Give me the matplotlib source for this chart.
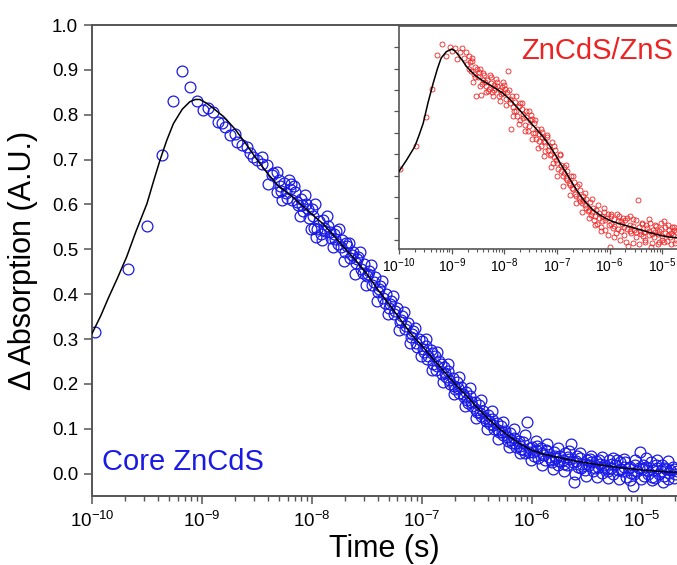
import matplotlib
matplotlib.use("Agg")
import matplotlib.pyplot as plt
import matplotlib.ticker as mticker
import numpy as np

plt.rcParams['font.family'] = ['Liberation Sans', 'DejaVu Sans']
plt.rcParams['mathtext.default'] = 'regular'
plt.rcParams['axes.unicode_minus'] = False

# ---------------- main panel: Core ZnCdS (log10 time, signal) ----------------
main_logt = [
    -9.976, -9.675, -9.497, -9.367, -9.267, -9.179, -9.109, -9.048, -8.994, -8.943,
    -8.897, -8.852, -8.821, -8.79, -8.745, -8.70, -8.685, -8.64, -8.594, -8.564,
    -8.533, -8.50, -8.458, -8.412, -8.367, -8.321, -8.321,
    -8.30, -8.28, -8.25, -8.23, -8.20, -8.18, -8.15, -8.13, -8.10, -8.08,
    -8.05, -8.03, -8.00, -7.98, -7.96, -7.94, -7.92, -7.90, -7.88, -7.85,
    -7.83, -7.80, -7.78, -7.76, -7.73, -7.70, -7.68, -7.65, -7.63, -7.60,
    -7.58, -7.55, -7.53, -7.50, -7.48, -7.45, -7.43, -7.40, -7.38, -7.35,
    -7.33, -7.30, -7.28, -7.25, -7.23, -7.20, -7.18, -7.15, -7.13, -7.10,
    -7.08, -7.05, -7.03,
    -8.29, -8.24, -8.19, -8.14, -8.09, -8.04, -7.99, -7.95, -7.89, -7.84,
    -7.79, -7.74, -7.69, -7.64, -7.59, -7.54, -7.49, -7.44, -7.39, -7.34,
    -7.29, -7.24, -7.19, -7.14, -7.09, -7.04,
    -7.00, -6.98, -6.96, -6.94, -6.92, -6.90, -6.88, -6.86, -6.84, -6.82,
    -6.80, -6.78, -6.76, -6.74, -6.72, -6.70, -6.68, -6.66, -6.64, -6.62,
    -6.60, -6.58, -6.56, -6.54, -6.52, -6.50, -6.48, -6.46, -6.44, -6.42,
    -6.40, -6.38, -6.36, -6.34, -6.32, -6.30, -6.28, -6.26, -6.24, -6.22,
    -6.20, -6.18, -6.16, -6.14, -6.12, -6.10, -6.08, -6.06, -6.04, -6.02,
    -6.99, -6.95, -6.91, -6.87, -6.83, -6.79, -6.75, -6.71, -6.67, -6.63,
    -6.59, -6.55, -6.51, -6.47, -6.43, -6.39, -6.35, -6.31, -6.27, -6.23,
    -6.19, -6.15, -6.11, -6.07, -6.03,
    -6.00, -5.98, -5.96, -5.94, -5.92, -5.90, -5.88, -5.86, -5.84, -5.82,
    -5.80, -5.78, -5.76, -5.74, -5.72, -5.70, -5.68, -5.66, -5.64, -5.62,
    -5.60, -5.58, -5.56, -5.54, -5.52, -5.50, -5.48, -5.46, -5.44, -5.42,
    -5.40, -5.38, -5.36, -5.34, -5.32, -5.30, -5.28, -5.26, -5.24, -5.22,
    -5.20, -5.18, -5.16, -5.14, -5.12, -5.10, -5.08, -5.06, -5.04, -5.02,
    -5.00, -4.98, -4.96, -4.94, -4.92, -4.90, -4.88, -4.86, -4.84, -4.82,
    -4.80, -4.78, -4.76, -4.74, -4.72, -4.70, -4.68,
    -5.99, -5.95, -5.91, -5.87, -5.83, -5.79, -5.75, -5.71, -5.67, -5.63,
    -5.59, -5.55, -5.51, -5.47, -5.43, -5.39, -5.35, -5.31, -5.27, -5.23,
    -5.19, -5.15, -5.11, -5.07, -5.03, -4.99, -4.95, -4.91, -4.87, -4.83,
    -4.79, -4.75, -4.71,
    -8.45, -8.40, -8.35, -8.27, -8.21, -8.16, -8.11, -8.06, -8.01, -7.97,
    -7.91, -7.86, -7.81, -7.75, -7.71, -7.66, -7.61, -7.56, -7.51, -7.46,
    -7.41, -7.36, -7.31, -7.26, -7.21, -7.16, -7.11, -7.06, -7.01, -6.96,
    -6.91, -6.86, -6.81, -6.76, -6.71, -6.66, -6.61, -6.56, -6.51, -6.46,
    -6.41, -6.36, -6.31, -6.26, -6.21, -6.16, -6.11, -6.06, -6.01, -5.96,
    -5.91, -5.86, -5.81, -5.76, -5.71, -5.66, -5.61, -5.56, -5.51, -5.46,
    -5.41, -5.36, -5.31, -5.26, -5.21, -5.16, -5.11, -5.06, -5.01, -4.96,
    -4.91, -4.86, -4.81, -4.76, -4.71,
]
main_val = [
    0.315, 0.455, 0.553, 0.711, 0.831, 0.898, 0.861, 0.831, 0.810, 0.816,
    0.806, 0.784, 0.782, 0.772, 0.754, 0.757, 0.740, 0.732, 0.728, 0.714,
    0.706, 0.700, 0.691, 0.688, 0.665, 0.628, 0.672,
    0.655, 0.630, 0.648, 0.615, 0.635, 0.610, 0.628, 0.598, 0.612, 0.585,
    0.602, 0.570, 0.590, 0.548, 0.527, 0.562, 0.535, 0.565, 0.540, 0.552,
    0.525, 0.535, 0.540, 0.512, 0.520, 0.495, 0.508, 0.480, 0.495, 0.470,
    0.482, 0.455, 0.468, 0.440, 0.452, 0.420, 0.438, 0.405, 0.418, 0.392,
    0.400, 0.370, 0.385, 0.355, 0.368, 0.338, 0.352, 0.322, 0.335, 0.305,
    0.318, 0.292, 0.300,
    0.642, 0.625, 0.645, 0.605, 0.598, 0.590, 0.575, 0.545, 0.548, 0.538,
    0.522, 0.505, 0.515, 0.488, 0.478, 0.448, 0.445, 0.428, 0.412, 0.380,
    0.378, 0.362, 0.342, 0.328, 0.312, 0.282,
    0.295, 0.270, 0.285, 0.262, 0.275, 0.245, 0.262, 0.240, 0.250, 0.222,
    0.238, 0.215, 0.228, 0.200, 0.212, 0.188, 0.205, 0.180, 0.192, 0.170,
    0.182, 0.158, 0.172, 0.150, 0.160, 0.138, 0.152, 0.128, 0.140, 0.118,
    0.130, 0.110, 0.122, 0.100, 0.112, 0.092, 0.105, 0.085, 0.095, 0.072,
    0.090, 0.068, 0.080, 0.060, 0.072, 0.055, 0.070, 0.045, 0.115, 0.058,
    0.278, 0.255, 0.268, 0.230, 0.245, 0.225, 0.208, 0.195, 0.190, 0.178,
    0.165, 0.160, 0.142, 0.135, 0.125, 0.118, 0.108, 0.098, 0.092, 0.082,
    0.075, 0.068, 0.062, 0.052, 0.048,
    0.060, 0.040, 0.052, 0.035, 0.058, 0.042, 0.030, 0.050, 0.038, 0.025,
    0.048, 0.035, 0.020, 0.040, 0.030, 0.045, 0.018, 0.032, 0.067, -0.019,
    0.028, 0.015, 0.035, 0.022, 0.008, 0.030, 0.018, 0.025, 0.005, 0.028,
    0.015, 0.022, 0.002, 0.020, 0.010, 0.030, 0.012, -0.002, 0.018, 0.008,
    0.025, 0.005, 0.015, -0.008, 0.012, 0.002, -0.027, 0.020, 0.005, 0.048,
    0.010, -0.005, 0.015, 0.000, 0.025, 0.008, -0.010, 0.012, 0.000, 0.018,
    -0.005, 0.010, -0.012, 0.008, 0.015, -0.002, 0.005,
    0.048, 0.062, 0.045, 0.052, 0.030, 0.040, 0.028, 0.022, 0.038, 0.025,
    0.040, 0.012, 0.022, 0.032, 0.012, 0.030, 0.015, 0.005, 0.022, 0.030,
    0.010, 0.025, 0.015, 0.000, 0.012, 0.020, 0.008, -0.008, 0.020, 0.005,
    0.012, 0.002, 0.010,
    0.705, 0.645, 0.670, 0.610, 0.655, 0.640, 0.575, 0.620, 0.545, 0.600,
    0.520, 0.575, 0.505, 0.545, 0.475, 0.515, 0.445, 0.495, 0.420, 0.465,
    0.385, 0.430, 0.355, 0.395, 0.320, 0.360, 0.290, 0.325, 0.262, 0.300,
    0.232, 0.272, 0.205, 0.245, 0.178, 0.215, 0.150, 0.190, 0.125, 0.165,
    0.100, 0.140, 0.078, 0.115, 0.060, 0.100, 0.045, 0.085, 0.030, 0.072,
    0.020, 0.065, 0.010, 0.058, 0.005, 0.050, 0.000, 0.045, -0.005, 0.040,
    -0.008, 0.038, -0.010, 0.035, -0.012, 0.032, -0.015, 0.030, -0.012, 0.035,
    -0.015, 0.030, -0.018, 0.028, -0.010,
]

# fitted curve, main panel
main_fit_logt = [-10.0, -9.92, -9.85, -9.77, -9.685, -9.6, -9.5, -9.44, -9.38, -9.32,
                 -9.26, -9.18, -9.11, -9.06, -9.02, -8.96, -8.9, -8.8, -8.7, -8.6,
                 -8.5, -8.4, -8.3, -8.2, -8.1, -8.0, -7.9, -7.8, -7.7, -7.6,
                 -7.5, -7.4, -7.3, -7.2, -7.1, -7.0, -6.9, -6.8, -6.7, -6.6,
                 -6.5, -6.4, -6.3, -6.2, -6.1, -6.0, -5.9, -5.8, -5.6, -5.4,
                 -5.2, -5.0, -4.8, -4.67]
main_fit_val = [0.312, 0.352, 0.392, 0.435, 0.483, 0.540, 0.602, 0.652, 0.700, 0.743,
                0.780, 0.812, 0.829, 0.834, 0.834, 0.826, 0.815, 0.795, 0.768, 0.735,
                0.700, 0.668, 0.640, 0.622, 0.600, 0.578, 0.557, 0.530, 0.502, 0.475,
                0.445, 0.410, 0.378, 0.345, 0.312, 0.285, 0.256, 0.228, 0.200, 0.175,
                0.148, 0.123, 0.101, 0.082, 0.065, 0.052, 0.044, 0.038, 0.028, 0.020,
                0.013, 0.008, 0.004, 0.003]

# ---------------- inset: ZnCdS/ZnS ----------------
inset_logt = [
    -9.99, -9.67, -9.49, -9.37, -9.27, -9.19, -9.10, -9.03, -8.99, -8.93,
    -8.90, -8.85, -8.80, -8.77, -8.73,
    -8.70, -8.67, -8.64, -8.61, -8.58, -8.55, -8.53, -8.50, -8.47, -8.44,
    -8.41, -8.38, -8.35, -8.32, -8.29, -8.26, -8.23, -8.20, -8.17, -8.14,
    -8.11, -8.08, -8.05, -8.02, -7.99, -7.96, -7.93, -7.90, -7.87, -7.85,
    -7.82, -7.79, -7.76, -7.73, -7.70, -7.67, -7.64, -7.61, -7.58, -7.55,
    -7.52, -7.49, -7.46, -7.43, -7.40, -7.37, -7.34, -7.31, -7.28, -7.25,
    -7.22, -7.19, -7.16, -7.13, -7.10, -7.07, -7.04, -7.01, -6.98, -6.95,
    -6.92, -6.89, -6.86, -6.83, -6.80, -6.77, -6.74, -6.71, -6.68, -6.65,
    -6.62, -6.59, -6.56, -6.53, -6.50, -6.47, -6.44, -6.41, -6.38, -6.35,
    -6.32, -6.29, -6.26, -6.23, -6.20, -6.17, -6.14, -6.11, -6.08, -6.05,
    -6.02, -6.00, -5.97, -5.94, -5.91, -5.88, -5.85, -5.82, -5.79, -5.76,
    -5.73, -5.70, -5.67, -5.65, -5.62, -5.59, -5.56, -5.53, -5.50, -5.46,
    -5.44, -5.41, -5.38, -5.35, -5.32, -5.29, -5.26, -5.23, -5.21, -5.18,
    -5.15, -5.12, -5.09, -5.06, -5.03, -5.00, -4.97, -4.94, -4.91, -4.88,
    -4.85, -4.82, -4.79, -4.76, -4.73,
    -8.68, -8.62, -8.56, -8.49, -8.43, -8.37, -8.31, -8.25, -8.19, -8.13,
    -8.07, -8.01, -7.95, -7.89, -7.83, -7.77, -7.71, -7.65, -7.59, -7.53,
    -7.47, -7.41, -7.35, -7.29, -7.23, -7.17, -7.11, -7.05, -6.99, -6.93,
    -6.87, -6.81, -6.75, -6.69, -6.63, -6.57, -6.51, -6.45, -6.39, -6.33,
    -6.27, -6.21, -6.15, -6.09, -6.03, -5.97, -5.91, -5.85, -5.79, -5.73,
    -5.67, -5.61, -5.55, -5.49, -5.43, -5.37, -5.31, -5.25, -5.19, -5.13,
    -5.07, -5.01, -4.95, -4.89, -4.83, -4.77,
    -8.65, -8.59, -8.52, -8.46, -8.40, -8.34, -8.27, -8.21, -8.15, -8.09,
    -8.03, -7.97, -7.91, -7.84, -7.78, -7.72, -7.66, -7.60, -7.54, -7.48,
    -7.42, -7.36, -7.30, -7.24, -7.18, -7.12, -7.06, -7.00, -6.94, -6.88,
    -6.82, -6.76, -6.70, -6.64, -6.58, -6.52, -6.46, -6.40, -6.34, -6.28,
    -6.22, -6.16, -6.10, -6.04, -5.98, -5.92, -5.86, -5.80, -5.74, -5.68,
    -5.62, -5.56, -5.50, -5.44, -5.38, -5.32, -5.26, -5.20, -5.14, -5.08,
    -5.02, -4.96, -4.90, -4.84, -4.78, -4.74,
]
inset_val = [
    0.330, 0.439, 0.572, 0.705, 0.862, 0.917, 0.858, 0.900, 0.881, 0.895,
    0.845, 0.880, 0.897, 0.850, 0.877,
    0.820, 0.860, 0.790, 0.835, 0.775, 0.810, 0.670, 0.760, 0.800, 0.678,
    0.745, 0.770, 0.720, 0.748, 0.705, 0.735, 0.690, 0.725, 0.710, 0.740,
    0.670, 0.700, 0.715, 0.685, 0.705, 0.660, 0.788, 0.640, 0.520, 0.670,
    0.600, 0.645, 0.580, 0.625, 0.560, 0.612, 0.590, 0.535, 0.575, 0.510,
    0.560, 0.585, 0.500, 0.545, 0.470, 0.520, 0.495, 0.440, 0.505, 0.460,
    0.415, 0.480, 0.440, 0.395, 0.455, 0.360, 0.420, 0.375, 0.330, 0.395,
    0.350, 0.300, 0.340, 0.290, 0.320, 0.265, 0.300, 0.240, 0.270, 0.215,
    0.250, 0.195, 0.230, 0.170, 0.205, 0.160, 0.190, 0.135, 0.175, 0.115,
    0.150, 0.090, 0.140, 0.075, 0.125, 0.060, 0.110, 0.150, 0.045, 0.100,
    0.070, -0.033, 0.120, 0.055, 0.095, 0.030, 0.085, 0.110, 0.040, 0.075,
    0.020, 0.090, 0.050, -0.030, 0.070, 0.030, 0.095, 0.045, 0.010, 0.186,
    0.060, 0.025, 0.075, 0.035, 0.000, 0.055, 0.020, 0.080, -0.033, 0.045,
    0.010, 0.065, 0.025, -0.010, 0.050, 0.015, 0.085, 0.030, -0.005, 0.045,
    0.010, 0.060, 0.020, -0.015, 0.035,
    0.800, 0.850, 0.760, 0.785, 0.730, 0.740, 0.695, 0.760, 0.700, 0.720,
    0.680, 0.725, 0.690, 0.660, 0.620, 0.600, 0.640, 0.570, 0.600, 0.530,
    0.565, 0.500, 0.460, 0.480, 0.455, 0.420, 0.400, 0.385, 0.360, 0.320,
    0.310, 0.280, 0.255, 0.235, 0.205, 0.180, 0.185, 0.150, 0.140, 0.130,
    0.110, 0.100, 0.085, 0.090, 0.120, 0.075, 0.065, 0.050, 0.085, 0.060,
    0.100, 0.040, 0.065, 0.035, 0.040, 0.015, 0.070, 0.040, 0.025, 0.035,
    0.040, 0.000, 0.060, 0.020, 0.030, 0.045,
    0.830, 0.740, 0.800, 0.720, 0.780, 0.690, 0.770, 0.670, 0.750, 0.650,
    0.740, 0.630, 0.700, 0.580, 0.670, 0.540, 0.640, 0.510, 0.600, 0.470,
    0.560, 0.430, 0.520, 0.390, 0.490, 0.340, 0.440, 0.300, 0.400, 0.250,
    0.350, 0.210, 0.300, 0.170, 0.260, 0.130, 0.220, 0.100, 0.190, 0.070,
    0.160, 0.040, 0.130, 0.020, 0.110, 0.010, 0.120, 0.000, 0.100, -0.010,
    0.110, -0.015, 0.090, -0.020, 0.080, -0.010, 0.095, -0.015, 0.070, -0.020,
    0.080, -0.010, 0.070, -0.020, 0.060, 0.000,
]

inset_fit_logt = [-10.0, -9.85, -9.70, -9.62, -9.54, -9.45, -9.35, -9.27, -9.20, -9.10,
                  -9.0, -8.94, -8.88, -8.80, -8.72, -8.62, -8.53, -8.40, -8.28, -8.15,
                  -8.03, -7.90, -7.77, -7.65, -7.52, -7.40, -7.27, -7.14, -7.01, -6.92,
                  -6.82, -6.72, -6.63, -6.53, -6.44, -6.32, -6.19, -6.06, -5.94, -5.78,
                  -5.62, -5.46, -5.30, -5.15, -4.99, -4.86, -4.73]
inset_fit_val = [0.319, 0.375, 0.436, 0.488, 0.545, 0.640, 0.733, 0.800, 0.850, 0.880,
                 0.892, 0.884, 0.866, 0.840, 0.811, 0.785, 0.764, 0.742, 0.725, 0.705,
                 0.686, 0.658, 0.623, 0.590, 0.553, 0.520, 0.483, 0.440, 0.389, 0.350,
                 0.311, 0.270, 0.233, 0.198, 0.170, 0.140, 0.116, 0.098, 0.084, 0.072,
                 0.061, 0.049, 0.0375, 0.027, 0.017, 0.012, 0.009]

main_yticks = [0.0, 0.1, 0.2, 0.3, 0.4, 0.5, 0.6, 0.7, 0.8, 0.9, 1.0]
inset_yticks = [0.0, 0.1, 0.2, 0.3, 0.4, 0.5, 0.6, 0.7, 0.8, 0.9]
xticks = [1e-10, 1e-9, 1e-8, 1e-7, 1e-6, 1e-5]

spine_col = '#555555'
blue = '#1a1ae6'
red = '#ee2222'

W, H = 677, 565
fig = plt.figure(figsize=(W / 100, H / 100), dpi=100)

ax = fig.add_axes([92 / W, (H - 496) / H, (W - 92) / W, (496 - 25) / H])
ax.set_xscale('log')
ax.plot(10 ** np.array(main_logt), main_val, linestyle='none', marker='o',
        markersize=7.8, markerfacecolor='none', markeredgecolor=blue,
        markeredgewidth=0.9, zorder=2)
ax.plot(10 ** np.array(main_fit_logt), main_fit_val, color='black', lw=1.1, zorder=3)
ax.set_xlim(1e-10, 10 ** -4.68)
ax.set_ylim(-0.05, 1.0)
ax.set_yticks(main_yticks)
ax.yaxis.set_major_formatter(mticker.FormatStrFormatter('%.1f'))
ax.set_xticks(xticks)
ax.xaxis.set_minor_locator(mticker.LogLocator(base=10, subs=np.arange(2, 10), numticks=20))
ax.xaxis.set_minor_formatter(mticker.NullFormatter())
ax.tick_params(axis='both', which='major', direction='out', length=6, width=1.1,
               color=spine_col, labelsize=13.5, pad=4)
ax.tick_params(axis='x', which='minor', direction='out', length=3.5, width=1.0, color=spine_col)
ax.tick_params(axis='x', which='major', pad=5)
for s in ['left', 'bottom', 'top']:
    ax.spines[s].set_color(spine_col)
    ax.spines[s].set_linewidth(1.4)
ax.spines['right'].set_visible(False)
ax.set_xlabel('Time (s)', fontsize=22, labelpad=2)
ax.set_ylabel('\u0394 Absorption (A.U.)', fontsize=22, labelpad=10)
ax.text(0.017, 0.056, 'Core ZnCdS', transform=ax.transAxes, color=blue,
        fontsize=21, ha='left', va='baseline')

# inset
ax2 = fig.add_axes([399 / W, (H - 249) / H, (W - 399) / W, (249 - 26) / H])
ax2.set_xscale('log')
ax2.plot(10 ** np.array(inset_logt), inset_val, linestyle='none', marker='o',
         markersize=3.6, markerfacecolor='none', markeredgecolor=red,
         markeredgewidth=0.6, zorder=2)
ax2.plot(10 ** np.array(inset_fit_logt), inset_fit_val, color='black', lw=1.1, zorder=3)
ax2.set_xlim(1e-10, 10 ** -4.72)
ax2.set_ylim(-0.044, 1.0)
ax2.set_yticks(inset_yticks)
ax2.yaxis.set_major_formatter(mticker.NullFormatter())
ax2.set_xticks(xticks)
ax2.xaxis.set_minor_locator(mticker.LogLocator(base=10, subs=np.arange(2, 10), numticks=20))
ax2.xaxis.set_minor_formatter(mticker.NullFormatter())
ax2.tick_params(axis='both', which='major', direction='out', length=3.5, width=0.9,
                color=spine_col, labelsize=10, pad=2)
ax2.tick_params(axis='x', which='minor', direction='out', length=2, width=0.8, color=spine_col)
for s in ['left', 'bottom', 'top']:
    ax2.spines[s].set_color(spine_col)
    ax2.spines[s].set_linewidth(1.2)
ax2.spines['right'].set_visible(False)
ax2.text(0.44, 0.85, 'ZnCdS/ZnS', transform=ax2.transAxes, color=red,
         fontsize=21, ha='left', va='baseline')

fig.savefig('out.png', dpi=100)
